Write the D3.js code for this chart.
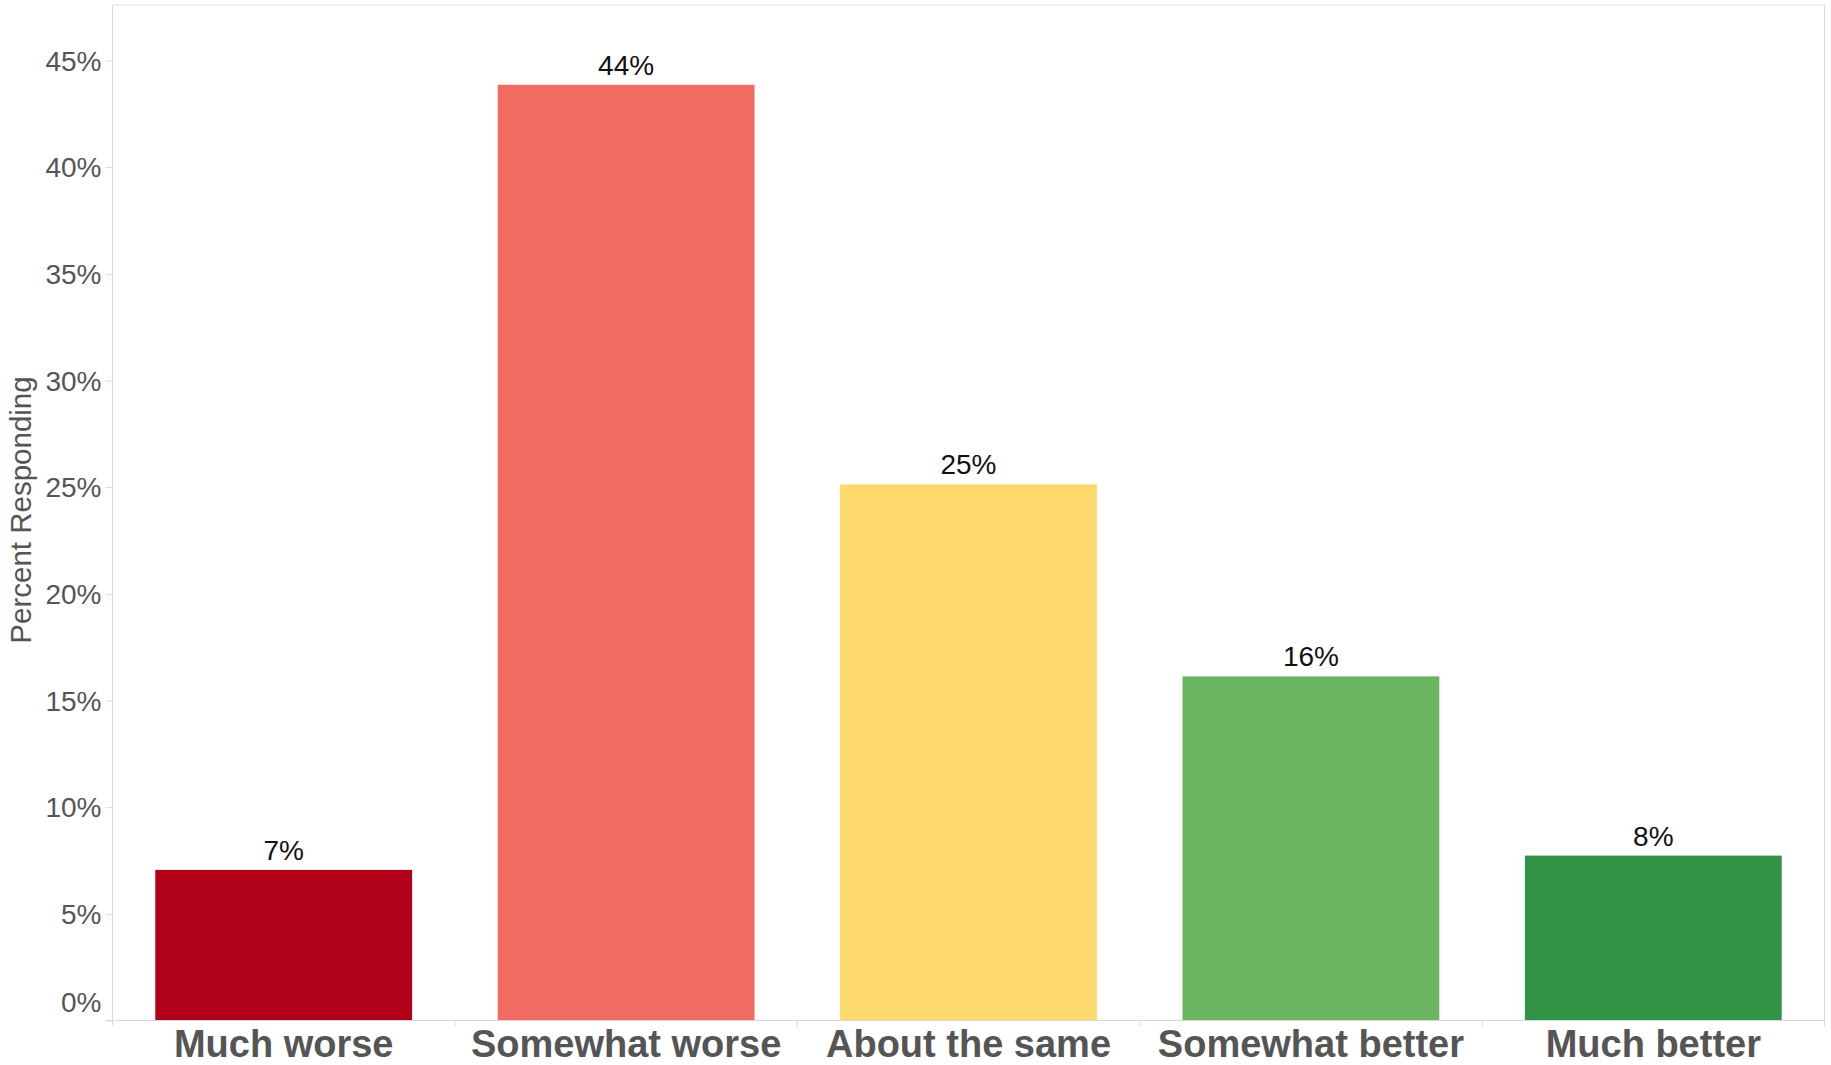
<!DOCTYPE html>
<html>
<head>
<meta charset="utf-8">
<script src="https://cdn.jsdelivr.net/npm/d3@7"></script>
<style>
  html, body { margin: 0; padding: 0; background: #fff; }
  svg { display: block; font-family: "Liberation Sans", Arial, sans-serif; }
</style>
</head>
<body>
<svg id="chart" width="1831" height="1065"></svg>
<script>
const categories = ["Much worse", "Somewhat worse", "About the same", "Somewhat better", "Much better"];
const values = [7.06, 43.86, 25.13, 16.13, 7.73];
const valueLabels = ["7%", "44%", "25%", "16%", "8%"];
const colors = ["#B00119", "#F16B62", "#FDD96D", "#6BB462", "#329245"];
const yTicks = [0, 5, 10, 15, 20, 25, 30, 35, 40, 45];
const yTitle = "Percent Responding";

(function () {
const svg = d3.select("#chart");
const mLeft = 112.5, mRight = 1824.5, mTop = 5, mBottom = 1020.5;

const x = d3.scaleBand().domain(categories).range([mLeft, mRight]).paddingInner(0.25).paddingOuter(0.125);
const y = d3.scaleLinear().domain([0, 47.6]).range([mBottom, mTop]);

const grid = "#d9d9d9";

// frame
svg.append("line").attr("x1", mLeft).attr("x2", mRight).attr("y1", mTop).attr("y2", mTop).attr("stroke", "#e3e3e3");
svg.append("line").attr("x1", mRight).attr("x2", mRight).attr("y1", mTop).attr("y2", mBottom + 6).attr("stroke", grid);

// bars
svg.append("g").selectAll("rect").data(categories).join("rect")
  .attr("x", d => x(d))
  .attr("width", x.bandwidth())
  .attr("y", (d, i) => y(values[i]))
  .attr("height", (d, i) => y(0) - y(values[i]))
  .attr("fill", (d, i) => colors[i]);

// value labels
svg.append("g").selectAll("text").data(categories).join("text")
  .attr("x", d => x(d) + x.bandwidth() / 2)
  .attr("y", (d, i) => y(values[i]) - 10)
  .attr("text-anchor", "middle")
  .attr("font-size", 28)
  .attr("fill", "#111")
  .text((d, i) => valueLabels[i]);

// y axis
const yAxis = svg.append("g").attr("transform", `translate(${mLeft},0)`)
  .call(d3.axisLeft(y).tickValues(yTicks).tickFormat(d => d + "%").tickSize(7).tickPadding(4));
yAxis.select(".domain").remove();
yAxis.selectAll(".tick line").attr("stroke", grid);
yAxis.selectAll(".tick text")
  .attr("font-size", 28)
  .attr("fill", "#555")
  .attr("font-family", "'Liberation Sans', Arial, sans-serif")
  .attr("dy", d => d === 0 ? "-0.32em" : "0.35em");
svg.append("line").attr("x1", mLeft).attr("x2", mLeft).attr("y1", mTop).attr("y2", mBottom + 5).attr("stroke", grid);

// x axis
const xAxis = svg.append("g").attr("transform", `translate(0,${mBottom})`)
  .call(d3.axisBottom(x).tickSize(0).tickPadding(10));
xAxis.select(".domain").remove();
xAxis.selectAll(".tick text")
  .attr("font-size", 38)
  .attr("font-weight", "bold")
  .attr("fill", "#555")
  .attr("font-family", "'Liberation Sans', Arial, sans-serif")
  .attr("dy", "0.71em");
svg.append("line").attr("x1", mLeft - 7).attr("x2", mRight).attr("y1", mBottom).attr("y2", mBottom).attr("stroke", grid);
// category separators
const seps = categories.slice(1).map(c => x(c) - x.step() * x.paddingInner() / 2);
svg.append("g").selectAll("line").data(seps).join("line")
  .attr("x1", d => d).attr("x2", d => d)
  .attr("y1", mBottom).attr("y2", mBottom + 6)
  .attr("stroke", grid);

// y title
svg.append("text")
  .attr("transform", `translate(31,510) rotate(-90)`)
  .attr("text-anchor", "middle")
  .attr("font-size", 29.5)
  .attr("fill", "#555")
  .text(yTitle);
})();
</script>
</body>
</html>
